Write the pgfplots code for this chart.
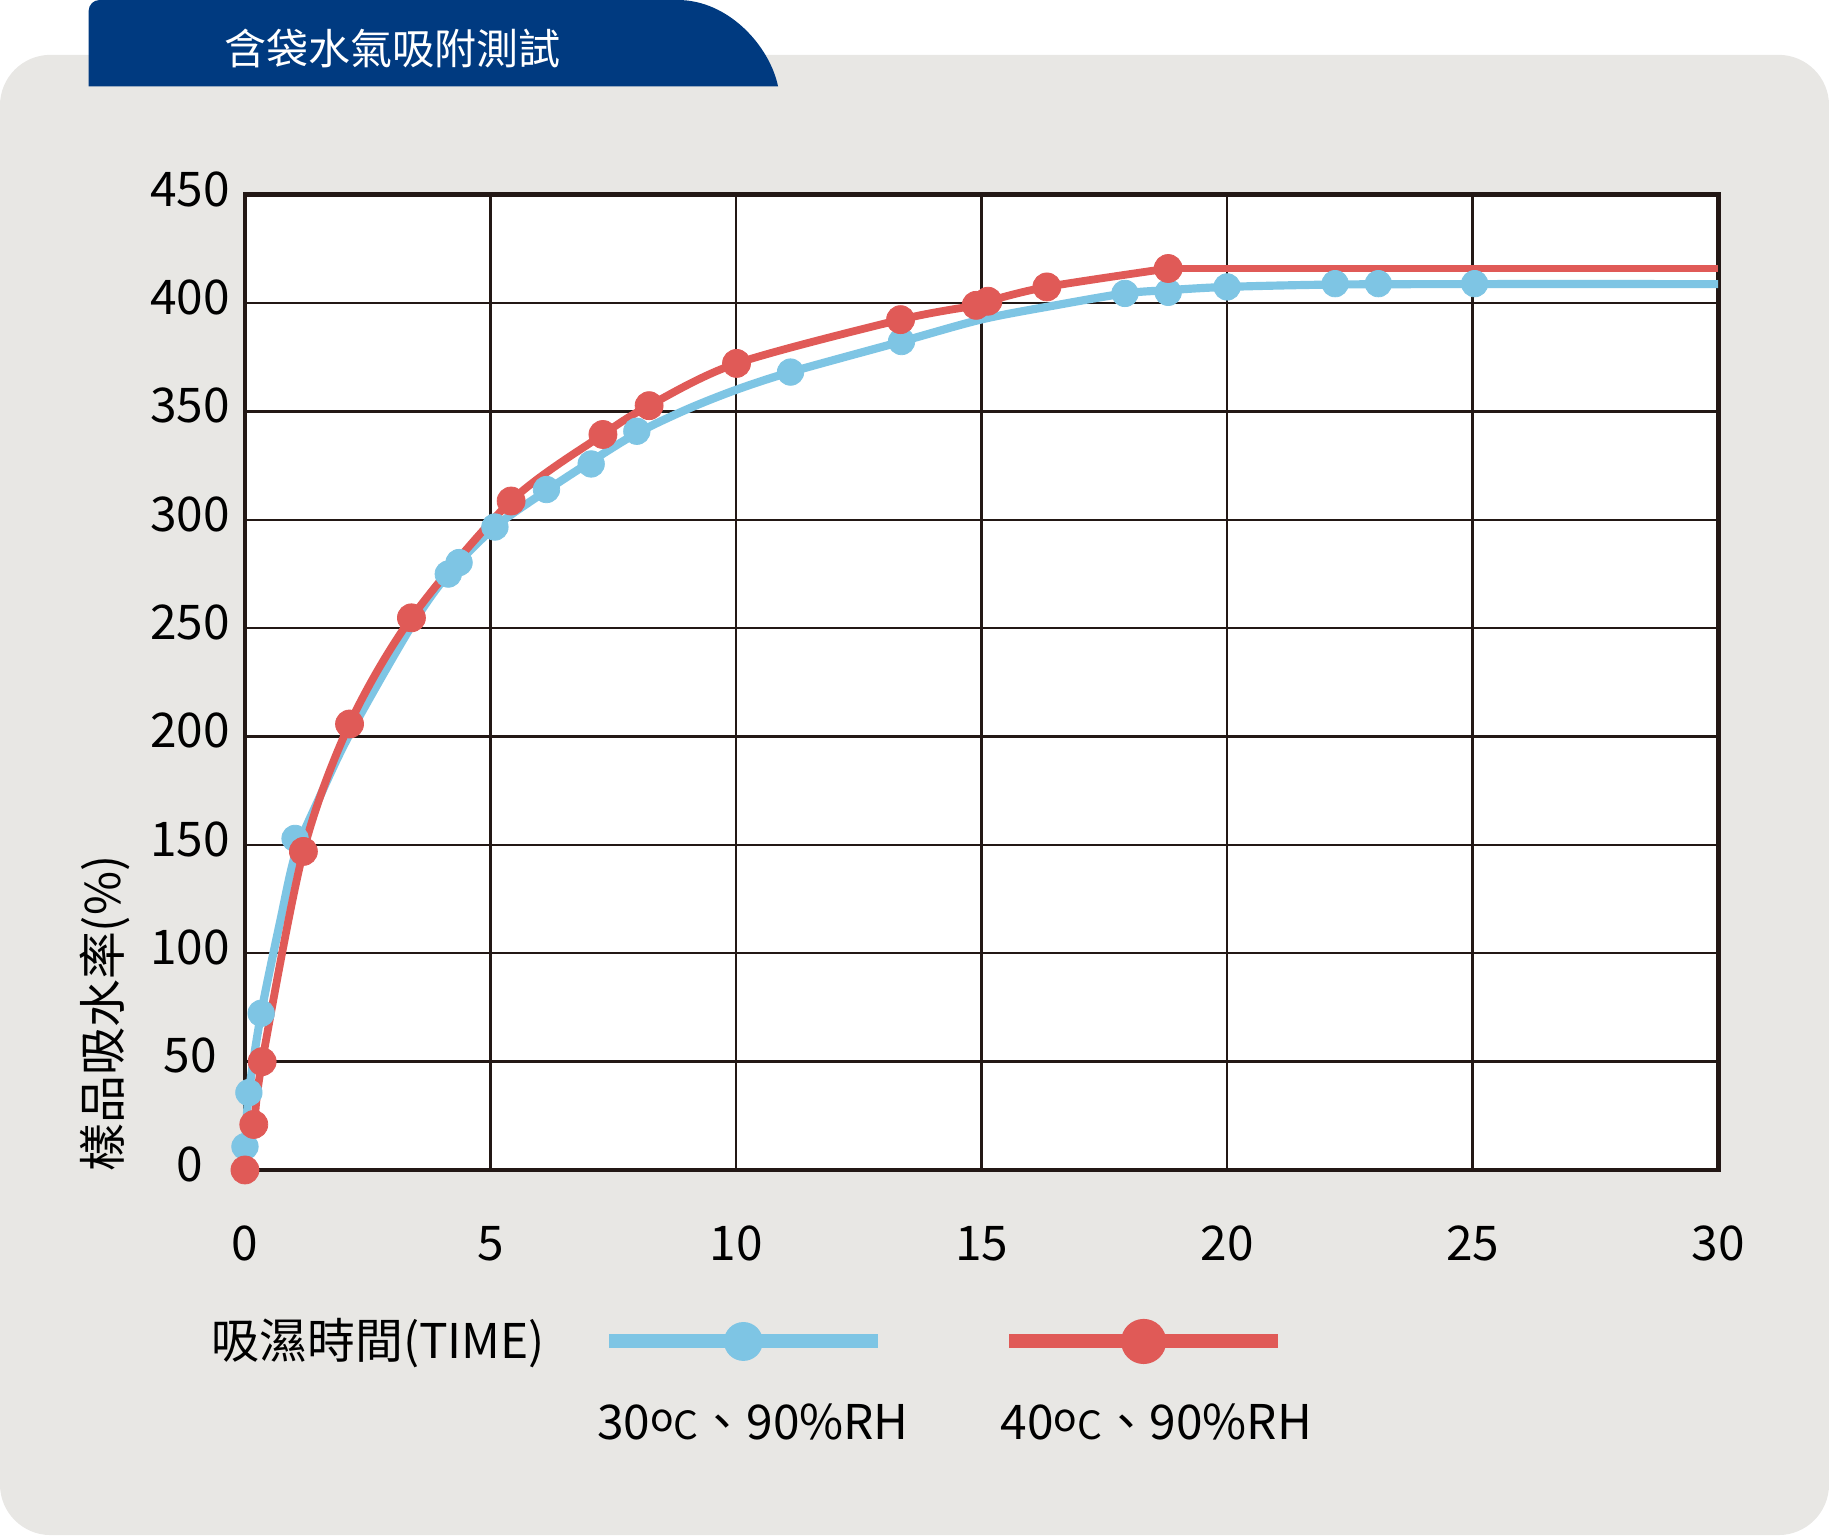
\documentclass[border=0pt]{standalone}
\usepackage{fontspec}
\setmainfont{Noto Sans CJK TC}
\usepackage{pgfplots}
\pgfplotsset{compat=1.18}
\definecolor{bgGray}{HTML}{E8E7E4}
\definecolor{tabBlue}{HTML}{003A80}
\definecolor{lineBlue}{HTML}{7EC5E4}
\definecolor{lineRed}{HTML}{E05A57}
\definecolor{gridInk}{HTML}{231815}

\pgfplotsset{
  legimg/.style={legend image code/.code={
      \path (0pt,0pt);
      \draw[overlay, #1, line width=3.6pt] (14.1pt,21.6pt) -- (83.1pt,21.6pt);
      \fill[overlay, #1] (48.6pt,21.6pt) circle (4.8pt);
  }}
}
\newcommand{\degC}{{\fontsize{10}{11}\selectfont\raisebox{2pt}{o}C}}

\begin{document}
\fontsize{12.3}{14.8}\selectfont
\begin{tikzpicture}
\useasboundingbox (0,0) rectangle (470.4pt,394.8pt);
% panel and title tab
\fill[bgGray, rounded corners=13pt] (0,0) rectangle (470.4pt,380.7pt);
\fill[tabBlue] (22.8pt,372.6pt) -- (22.8pt,392pt) arc[start angle=180, end angle=90, radius=2.8pt]
  -- (174.3pt,394.8pt) .. controls (187.5pt,394.8pt) and (198pt,382.8pt) .. (200.1pt,372.6pt) -- cycle;
\node[white, font=\fontsize{10.8}{12}\selectfont] at (101pt,382.2pt) {含袋水氣吸附測試};

\begin{axis}[
  at={(63pt,93.9pt)}, anchor=south west,
  scale only axis, width=378.9pt, height=250.8pt,
  xmin=0, xmax=30, ymin=0, ymax=450,
  xtick={0,5,...,30}, ytick={0,50,...,450},
  grid=major, major grid style={gridInk, line width=0.6pt},
  axis line style={gridInk, line width=1.2pt},
  major tick length=0pt, tick style={draw=none},
  axis background/.style={fill=white},
  clip=false,
  /pgf/number format/assume math mode=true,
  ticklabel style={font=\fontsize{12.3}{14}\selectfont},
  xticklabel style={anchor=base, yshift=-23.4pt, inner sep=0pt},
  yticklabel style={anchor=center, inner sep=0pt, xshift=-14.1pt, yshift=1.5pt},
  xlabel={吸濕時間(TIME)},
  xlabel style={at={(rel axis cs:-0.023,-0.178)}, anchor=west, inner sep=0pt},
  ylabel={樣品吸水率(\%)},
  ylabel style={at={(rel axis cs:-0.095,-0.002)}, anchor=west, inner sep=0pt},
  legend columns=2,
  legend style={at={(rel axis cs:0.209,-0.262)}, anchor=west, draw=none, fill=none,
    inner sep=0pt, column sep=10.8pt, nodes={inner sep=0pt}},
]
% 30C fitted line
\addplot[lineBlue, line width=2.1pt, smooth, tension=0.5, forget plot] coordinates {
  (0,10.8) (0.08,35.7) (0.33,72.3) (0.72,115) (1.03,146) (1.5,171) (2.13,201)
  (3.39,251) (4.14,275) (5.09,296.7) (6.14,313.5) (7.05,327) (7.98,340) (9,351)
  (10,360) (11.11,368.2) (13.37,382.3) (15,392.5) (16.5,399) (17.92,404.5)
  (18.8,406) (20,407.5) (22.2,408.6) (25.04,408.8) (30,408.8)
};
% 30C measured points
\addplot[only marks, mark=*, mark size=3.4pt, color=lineBlue,
  mark options={line width=0.2pt}, legimg=lineBlue] coordinates {
  (0,10.8) (0.08,35.7) (0.33,72.3) (1.02,153) (4.14,275) (4.36,280.3) (5.09,296.7)
  (6.14,314) (7.05,325.8) (7.98,340.9) (11.11,368.2) (13.37,382.3) (17.92,404.5)
  (18.8,405) (20.0,407.5) (22.2,409) (23.08,409) (25.04,409)
};
\addlegendentry{30\degC、90\%RH}
% 40C
\addplot[lineRed, line width=2pt, smooth, tension=0.5, mark=*, mark size=3.6pt,
  mark options={fill=lineRed, draw=lineRed, line width=0.2pt}, legimg=lineRed] coordinates {
  (0,0) (0.18,21) (0.35,50) (1.19,147) (2.13,205.8) (3.39,254.8) (5.42,308.7)
  (7.29,339.4) (8.23,352.7) (10.01,372.2) (13.35,392.4) (14.89,399) (15.13,400.9)
  (16.33,407.5) (18.8,416)
};
\addlegendentry{40\degC、90\%RH}
\addplot[lineRed, line width=2pt, forget plot] coordinates {(18.8,416) (30,416)};
\end{axis}
\end{tikzpicture}
\end{document}
